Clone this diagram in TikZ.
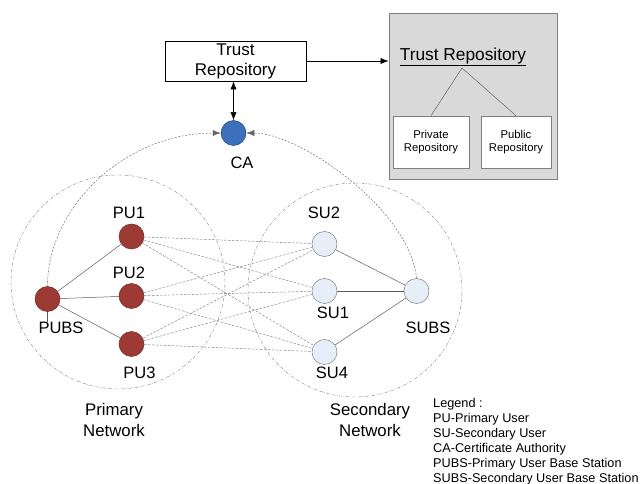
\documentclass[tikz,border=0pt]{standalone}
\usepackage{fontspec}
\setmainfont{Liberation Sans}
\usetikzlibrary{arrows.meta}
\definecolor{pured}{RGB}{158,58,52}
\definecolor{pudraw}{RGB}{110,40,36}
\definecolor{cablue}{RGB}{60,112,186}
\definecolor{cadraw}{RGB}{40,70,120}
\definecolor{sufill}{RGB}{230,238,248}
\definecolor{sudraw}{RGB}{120,128,140}
\definecolor{boxgray}{RGB}{217,217,217}
\definecolor{lnk}{RGB}{90,90,90}
\begin{document}
\begin{tikzpicture}[x=1pt,y=-1pt,
  lbl/.style={font=\fontsize{16.5}{19}\selectfont, inner sep=0},
  punode/.style={circle, minimum size=25pt, inner sep=0, fill=pured, draw=pudraw, line width=0.5pt},
  sunode/.style={circle, minimum size=25pt, inner sep=0, fill=sufill, draw=sudraw, line width=0.5pt},
  canode/.style={circle, minimum size=25pt, inner sep=0, fill=cablue, draw=cadraw, line width=0.5pt},
  solidlink/.style={draw=lnk, line width=0.5pt},
  dashlink/.style={draw=gray, line width=0.45pt, dash pattern=on 2.5pt off 1.5pt},
  netcircle/.style={draw=gray, line width=0.4pt, dash pattern=on 3pt off 1.5pt on 0.6pt off 1.5pt},
  arcline/.style={draw=gray!80!black, line width=0.45pt, dash pattern=on 2pt off 1.5pt},
  tip/.style={-{Latex[length=8pt,width=6pt]}},
  smallbox/.style={draw=gray, fill=white, line width=0.6pt, align=center, font=\fontsize{11.3}{13.3}\selectfont}
]
\useasboundingbox (0,0) rectangle (643,484);

% network circles
\draw[netcircle] (118,282) circle (107pt);
\draw[netcircle] (355,290) circle (107pt);

% trust repository box
\node[draw, line width=0.7pt, minimum width=141pt, minimum height=40pt, align=center, inner sep=0,
  font=\fontsize{17}{20}\selectfont] (tr) at (235.5,61) {Trust\\Repository};

% gray box
\node[draw=gray, fill=boxgray, line width=0.8pt, minimum width=168pt, minimum height=166pt] (gb) at (473,96) {};
\node[font=\fontsize{17.3}{20}\selectfont, inner sep=0] (th) at (463,57) {\underline{Trust Repository}};
\coordinate (apex) at (462,68);
\node[smallbox, minimum width=76pt, minimum height=52pt] (priv) at (431,142) {Private\\Repository};
\node[smallbox, minimum width=70pt, minimum height=52pt] (pub) at (516,142) {Public\\Repository};
\draw[solidlink, line width=0.45pt] (apex) -- (priv.north);
\draw[solidlink, line width=0.45pt] (apex) -- (pub.north);

\draw[line width=0.5pt, tip] (tr.east) -- (tr.east -| gb.west);

% CA
\node[canode] (ca) at (233.5,133) {};
\node[lbl] (calbl) at (242,163) {CA};
\draw[line width=0.5pt, {Latex[length=8pt,width=6pt]}-{Latex[length=8pt,width=6pt]}] (tr.south -| ca) -- (ca.north);

% primary nodes
\node[punode] (pubs) at (47.5,299) {};
\node[punode] (pu1) at (131.5,236.5) {};
\node[punode] (pu2) at (131.5,296) {};
\node[punode] (pu3) at (131.5,344) {};
\node[lbl] (pubslbl) at (61,328) {PUBS};
\node[lbl] (pu1lbl) at (129,213) {PU1};
\node[lbl] (pu2lbl) at (129,273) {PU2};
\node[lbl] (pu3lbl) at (139.5,373) {PU3};

% secondary nodes
\node[sunode] (subs) at (416.5,291) {};
\node[sunode] (su2) at (324.5,244) {};
\node[sunode] (su1) at (324.5,291) {};
\node[sunode] (su4) at (324.5,352) {};
\node[lbl] (subslbl) at (428,328) {SUBS};
\node[lbl] (su2lbl) at (324,213) {SU2};
\node[lbl] (su1lbl) at (333,313) {SU1};
\node[lbl] (su4lbl) at (332,373) {SU4};

% solid links
\draw[solidlink] (pubs) -- (pu1);
\draw[solidlink] (pubs) -- (pu2);
\draw[solidlink] (pubs) -- (pu3);
\draw[solidlink] (pubs.south) -- (pubslbl.north -| pubs);
\draw[solidlink] (su2) -- (subs);
\draw[solidlink] (su1) -- (subs);
\draw[solidlink] (su4) -- (subs);

% dashed PU-SU links
\foreach \p in {pu1,pu2,pu3}{
  \foreach \s in {su2,su1,su4}{
    \draw[dashlink] (\p) -- (\s);
  }
}

% arcs to CA
\draw[arcline, tip] (pubs.north) .. controls (47.5,207) and (125,133) .. (ca.west);
\draw[arcline, tip] (subs.north) .. controls (410,210) and (300,133) .. (ca.east);

% network labels
\node[lbl, align=center, font=\fontsize{16.8}{21}\selectfont] (pnet) at (114,420) {Primary\\Network};
\node[lbl, align=center, font=\fontsize{16.8}{21}\selectfont] (snet) at (370,420) {Secondary\\Network};

% legend
\node[anchor=north west, inner sep=0, align=left, font=\fontsize{12.7}{15}\selectfont] (legend) at (433,398)
 {Legend :\\PU-Primary User\\SU-Secondary User\\CA-Certificate Authority\\PUBS-Primary User Base Station\\SUBS-Secondary User Base Station};
\end{tikzpicture}
\end{document}
